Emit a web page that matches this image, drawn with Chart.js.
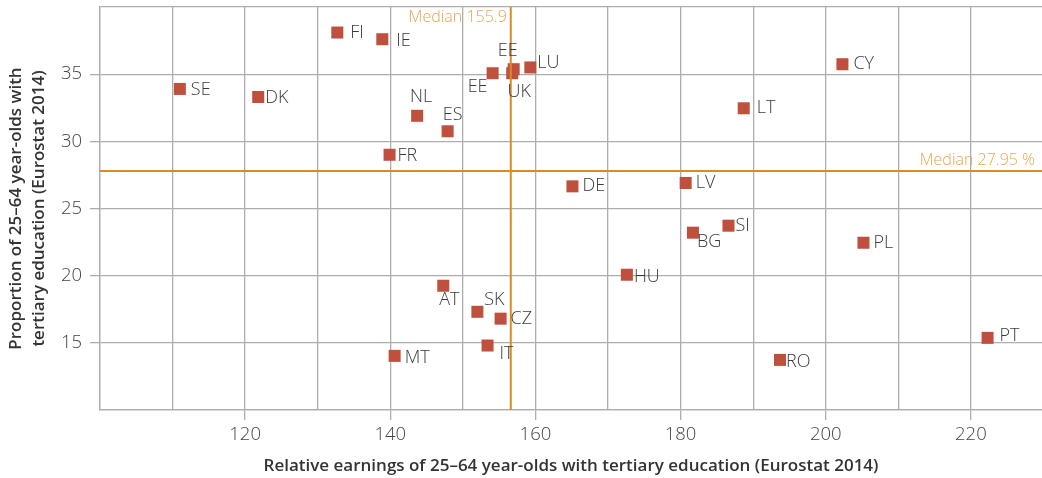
<!DOCTYPE html>
<html>
<head>
<meta charset="utf-8">
<script src="https://cdn.jsdelivr.net/npm/chart.js@4.4.1/dist/chart.umd.min.js"></script>
<style>
  html, body { margin: 0; padding: 0; background: #fff; }
  #wrap { width: 1042px; height: 478px; }
</style>
</head>
<body>
<div id="wrap"><canvas id="earnings-chart"></canvas></div>
<script>
// values
const countries = ['SE', 'DK', 'FI', 'IE', 'NL', 'ES', 'FR', 'EE', 'UK', 'EE', 'LU', 'DE', 'LV',
                   'LT', 'CY', 'HU', 'AT', 'SK', 'CZ', 'IT', 'MT', 'BG', 'SI', 'PL', 'PT', 'RO'];
const earnings = [111.0, 121.8, 132.7, 138.9, 143.7, 147.9, 139.9, 154.1, 156.8, 157.0, 159.3, 165.1, 180.7,
                  188.7, 202.3, 172.6, 147.3, 152.0, 155.2, 153.4, 140.6, 181.7, 186.6, 205.2, 222.3, 193.7];
const shares = [33.9, 33.3, 38.1, 37.6, 31.9, 30.75, 29.0, 35.07, 35.07, 35.37, 35.5, 26.65, 26.9,
                32.46, 35.74, 20.07, 19.25, 17.31, 16.8, 14.8, 14.03, 23.2, 23.72, 22.45, 15.37, 13.73];

const xTicks = [100, 110, 120, 130, 140, 150, 160, 170, 180, 190, 200, 210, 220];
const xLabelled = [120, 140, 160, 180, 200, 220];
const yTicks = [10, 15, 20, 25, 30, 35, 40];
const yLabelled = [15, 20, 25, 30, 35];

const medianEarnings = 156.6;
const medianEarningsText = 'Median 155.9';
const medianShare = 27.8;
const medianShareText = 'Median 27.95 %';

// where each country code sits relative to its square: dx, dy, align
const labelPlacement = [
    [11, 1, 'left'], [7, 1, 'left'], [13, 0, 'left'], [14, 2, 'left'], [4, -19, 'center'],
    [5, -16, 'center'], [8, 1, 'left'], [-15, 14, 'center'], [7, 19, 'center'], [-6, -18, 'center'],
    [7, -5, 'left'], [10, 0, 'left'], [10, 0, 'left'], [13, 0, 'left'], [11, 0, 'left'],
    [7, 2, 'left'], [6, 14, 'center'], [17, -12, 'center'], [10, 0, 'left'], [12, 8, 'left'],
    [10, 2, 'left'], [4, 9, 'left'], [7, 0, 'left'], [10, 0, 'left'], [12, -2, 'left'], [6, 2, 'left']
];

const GRID = '#adadad';
const ORANGE = '#d98b2b';
const FONT = "'Open Sans', sans-serif";

const medianLines = {
    id: 'medianLines',
    afterDatasetsDraw(chart) {
        const {ctx, chartArea, scales: {x, y}} = chart;
        const px = x.getPixelForValue(medianEarnings);
        const py = y.getPixelForValue(medianShare);
        ctx.save();
        ctx.strokeStyle = ORANGE;
        ctx.lineWidth = 2;
        ctx.beginPath();
        ctx.moveTo(px, chartArea.top);
        ctx.lineTo(px, chartArea.bottom);
        ctx.moveTo(chartArea.left, py);
        ctx.lineTo(chartArea.right, py);
        ctx.stroke();

        ctx.fillStyle = '#e6a553';
        ctx.font = `300 16px ${FONT}`;
        ctx.textAlign = 'right';
        ctx.textBaseline = 'middle';
        ctx.fillText(medianEarningsText, px - 4, chartArea.top + 10);
        ctx.fillText(medianShareText, chartArea.right - 7, py - 10);
        ctx.restore();
    }
};

const countryLabels = {
    id: 'countryLabels',
    afterDatasetsDraw(chart) {
        const {ctx} = chart;
        const meta = chart.getDatasetMeta(0);
        ctx.save();
        ctx.fillStyle = '#3a3a3a';
        ctx.font = `300 18px ${FONT}`;
        ctx.textBaseline = 'middle';
        meta.data.forEach((pt, i) => {
            const [dx, dy, align] = labelPlacement[i];
            ctx.textAlign = align;
            ctx.fillText(countries[i], pt.x + dx, pt.y + dy);
        });
        ctx.restore();
    }
};

const data = {
    datasets: [{
        label: 'Countries',
        data: earnings.map((e, i) => ({x: e, y: shares[i]})),
        pointStyle: 'rect',
        pointRadius: 8.5,
        pointBackgroundColor: '#c0503e',
        pointBorderWidth: 0,
        showLine: false
    }]
};

const config = {
    type: 'scatter',
    data: data,
    options: {
        responsive: true,
        maintainAspectRatio: false,
        animation: false,
        layout: {autoPadding: false, padding: {top: 7, left: 0, right: 0, bottom: 0}},
        plugins: {legend: {display: false}, tooltip: {enabled: false}},
        scales: {
            x: {
                type: 'linear',
                min: 100,
                max: 229.8,
                afterBuildTicks: scale => { scale.ticks = xTicks.map(v => ({value: v})); },
                afterFit: scale => {
                    scale.height = 68;
                    scale.paddingLeft = 0;
                    scale.paddingRight = 0;
                },
                grid: {
                    color: GRID,
                    lineWidth: 1.3,
                    tickLength: 10,
                    tickColor: ctx => xLabelled.includes(ctx.tick.value) ? GRID : 'rgba(0,0,0,0)'
                },
                border: {color: GRID, width: 1.3},
                ticks: {
                    autoSkip: false,
                    maxRotation: 0,
                    padding: 4,
                    color: '#444',
                    font: {family: FONT, size: 18.5, weight: 300},
                    callback: v => xLabelled.includes(v) ? String(v) : ''
                },
                title: {
                    display: true,
                    text: 'Relative earnings of 25–64 year-olds with tertiary education (Eurostat 2014)',
                    color: '#333',
                    font: {family: FONT, size: 17, weight: 600, lineHeight: 1.35},
                    padding: {top: 0, bottom: 0}
                }
            },
            y: {
                type: 'linear',
                min: 10,
                max: 40,
                afterBuildTicks: scale => { scale.ticks = yTicks.map(v => ({value: v})); },
                afterFit: scale => {
                    scale.width = 100;
                    scale.paddingTop = 0;
                    scale.paddingBottom = 0;
                },
                grid: {
                    color: GRID,
                    lineWidth: 1.3,
                    tickLength: 10,
                    tickColor: ctx => yLabelled.includes(ctx.tick.value) ? GRID : 'rgba(0,0,0,0)'
                },
                border: {color: GRID, width: 1.3},
                ticks: {
                    autoSkip: false,
                    padding: 8,
                    color: '#444',
                    font: {family: FONT, size: 18.5, weight: 300},
                    callback: v => yLabelled.includes(v) ? String(v) : ''
                },
                title: {
                    display: true,
                    text: ['Proportion of 25–64 year-olds with', 'tertiary education (Eurostat 2014)'],
                    color: '#333',
                    font: {family: FONT, size: 17, weight: 600, lineHeight: 1.35},
                    padding: {top: 4.5, bottom: 0}
                }
            }
        }
    },
    plugins: [medianLines, countryLabels]
};

const myChart = new Chart(document.getElementById('earnings-chart'), config);
</script>
</body>
</html>
